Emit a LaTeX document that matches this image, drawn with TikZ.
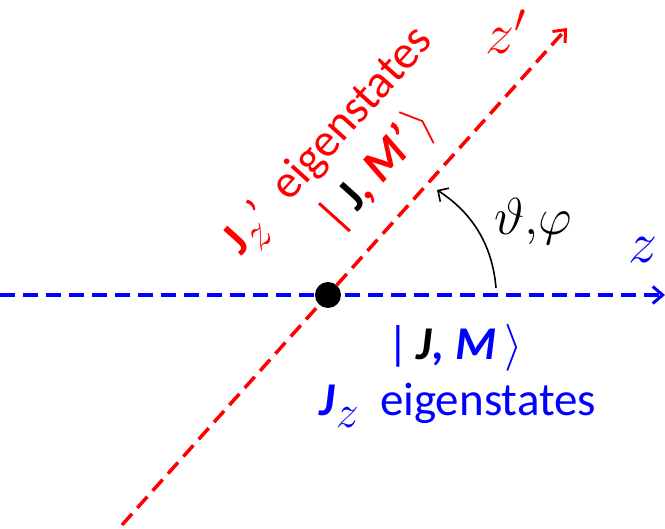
\RequirePackage{fix-cm}
\documentclass[tikz,border=0pt]{standalone}
\usepackage{fontspec}
\setmainfont{Carlito}
\usetikzlibrary{arrows.meta}
\definecolor{zblue}{RGB}{0,0,255}
\definecolor{zred}{RGB}{255,0,0}
\newcommand{\subz}{\raisebox{-0.25em}{\fontsize{46}{46}\selectfont$z$}}
\tikzset{
  axis/.style={line width=3.5pt, dash pattern=on 15pt off 8pt,
    -{Straight Barb[length=10pt,width=17pt,line width=3pt]}},
  big/.style={font=\fontsize{52}{56}\selectfont, inner sep=0pt},
  zlbl/.style={font=\fontsize{58}{60}\selectfont, inner sep=0pt},
  lbl/.style={font=\fontsize{47}{50}\selectfont, inner sep=0pt},
}
\begin{document}
\begin{tikzpicture}[x=1pt,y=-1pt]
\useasboundingbox (0,0) rectangle (665,529);
\coordinate (bl) at (0,295);
\coordinate (br) at (665,295);
\coordinate (rl) at (122,525);
\coordinate (rt) at (567,28);
\draw[axis, zblue] (bl) -- (br);
\draw[axis, zred] (rl) -- (rt);
\node[circle, fill=black, inner sep=0pt, minimum size=26pt] (o) at (328,295) {};
\coordinate (as) at (496,288);
\coordinate (ae) at (437,190);
\draw[line width=1.6pt, -{Straight Barb[length=8pt,width=16pt,line width=1.6pt]}]
  (as) .. controls (492,240) and (468,210) .. (ae);
\node[big] (ang) at (533,222) {$\vartheta{,}\varphi$};
\node[zlbl, text=zblue] (zl) at (643,250) {$z$};
\node[zlbl, text=zred] (zpl) at (506,32) {$z'$};
\node[lbl, text=zblue] (ket) at (455,348) {|\,\textbf{\textit{\color{black}J}\textit{, M}}\,$\rangle$};
\node[lbl, text=zblue] (eig) at (458,405) {\textbf{\textit{J}}\subz\ \ eigenstates};
\node[lbl, text=zred, rotate=48] (reig) at (330,142) {\textbf{J}\subz’ \ eigenstates};
\node[lbl, text=zred, rotate=48] (rket) at (378,172) {|\,\textbf{\color{black}J}\textbf{\textit{, M’}}\,$\rangle$};
\end{tikzpicture}
\end{document}
